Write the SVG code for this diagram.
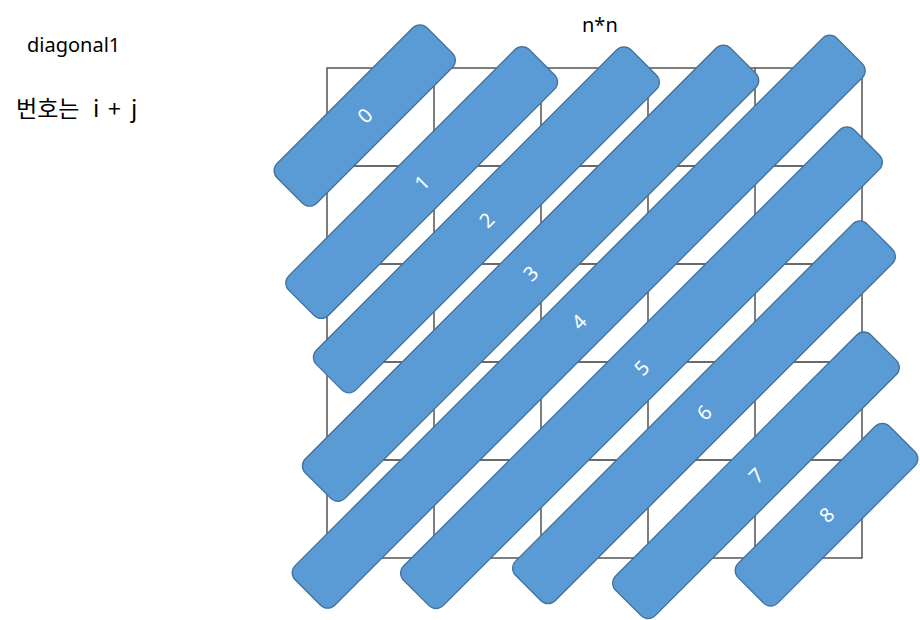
<svg xmlns="http://www.w3.org/2000/svg" width="920" height="620" viewBox="0 0 920 620">
<style>
.grid{stroke:#3a3a3a;stroke-width:1.3;fill:none}
.bar{fill:#5B9BD5;stroke:#41719C;stroke-width:1.3}
.lbl{fill:#ffffff;font-family:"Noto Sans","DejaVu Sans",sans-serif;font-size:20px;text-anchor:middle;dominant-baseline:central}
.t{fill:#000;font-family:"Noto Sans","Noto Sans CJK KR",sans-serif;font-size:20px}
.k{fill:#000;font-family:"Noto Sans CJK KR",sans-serif;font-size:23px}
</style>
<rect width="920" height="620" fill="#ffffff"/>
<g id="grid" class="grid">
<rect x="327" y="68" width="535" height="490"/>
<path d="M434 68V558M541 68V558M648 68V558M755 68V558M327 166H862M327 264H862M327 362H862M327 460H862"/>
</g>
<g id="texts">
<text class="t" x="27" y="52">diagonal1</text>
<text class="k" x="16" y="117"><tspan>번호는 </tspan><tspan x="93">i </tspan><tspan x="108">+ </tspan><tspan x="131">j</tspan></text>
<text class="t" x="582" y="32">n*n</text>
</g>
<g id="connectors"></g>
<g id="bar0" transform="translate(364.75,115.5) rotate(-45)"><rect class="bar" x="-106" y="-28" width="212" height="56" rx="10"/><text class="lbl" x="0" y="0">0</text></g>
<g id="bar1" transform="translate(421.7,182.5) rotate(-45)"><rect class="bar" x="-170" y="-28" width="340" height="56" rx="10"/><text class="lbl" x="0" y="0">1</text></g>
<g id="bar2" transform="translate(486.4,219.8) rotate(-45)"><rect class="bar" x="-222.5" y="-28" width="445" height="56" rx="10"/><text class="lbl" x="0" y="0">2</text></g>
<g id="bar3" transform="translate(530.6,273.2) rotate(-45)"><rect class="bar" x="-300.5" y="-28" width="601" height="56" rx="10"/><text class="lbl" x="0" y="0">3</text></g>
<g id="bar4" transform="translate(578.7,321.7) rotate(-45)"><rect class="bar" x="-383" y="-28" width="766" height="56" rx="10"/><text class="lbl" x="0" y="0">4</text></g>
<g id="bar5" transform="translate(641.5,367.7) rotate(-45)"><rect class="bar" x="-318.5" y="-28" width="637" height="56" rx="10"/><text class="lbl" x="0" y="0">5</text></g>
<g id="bar6" transform="translate(704,412.3) rotate(-45)"><rect class="bar" x="-248.5" y="-28" width="497" height="56" rx="10"/><text class="lbl" x="0" y="0">6</text></g>
<g id="bar7" transform="translate(756,475.3) rotate(-45)"><rect class="bar" x="-180.5" y="-28" width="361" height="56" rx="10"/><text class="lbl" x="0" y="0">7</text></g>
<g id="bar8" transform="translate(826.5,514.7) rotate(-45)"><rect class="bar" x="-107" y="-28" width="214" height="56" rx="10"/><text class="lbl" x="0" y="0">8</text></g>
</svg>
